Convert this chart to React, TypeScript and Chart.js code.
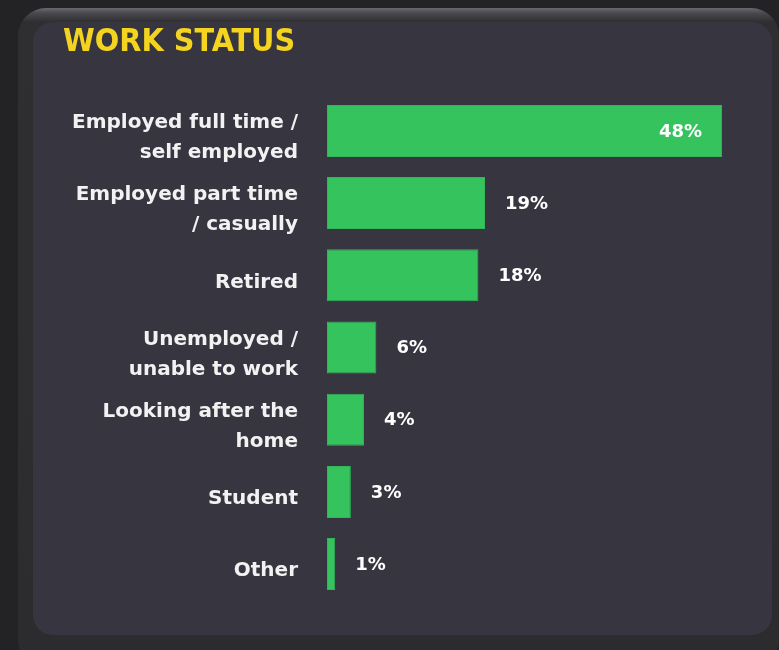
import React, { useEffect, useRef } from "react";
import { Chart, registerables } from "chart.js";

Chart.register(...registerables);

const chartTitle = "WORK STATUS";
const categories: (string | string[])[] = [
  ["Employed full time /", "self employed"],
  ["Employed part time", "/ casually"],
  "Retired",
  ["Unemployed /", "unable to work"],
  ["Looking after the", "home"],
  "Student",
  "Other",
];
const shares = [48, 19.2, 18.4, 6.0, 4.5, 2.9, 1.0];
const shareLabels = ["48%", "19%", "18%", "6%", "4%", "3%", "1%"];

const FONT = "'DejaVu Sans', Verdana, sans-serif";

const valueLabelPlugin = {
  id: "valueLabels",
  afterDatasetsDraw(chart: any) {
    const { ctx } = chart;
    const meta = chart.getDatasetMeta(0);
    const maxVal = Math.max(...shares);
    ctx.save();
    ctx.font = `bold 18px ${FONT}`;
    ctx.fillStyle = "#ffffff";
    ctx.textBaseline = "middle";
    meta.data.forEach((bar: any, i: number) => {
      const inside = shares[i] === maxVal;
      if (inside) {
        ctx.textAlign = "right";
        ctx.fillText(shareLabels[i], bar.x - 20, bar.y + 1);
      } else {
        ctx.textAlign = "left";
        ctx.fillText(shareLabels[i], bar.x + 20, bar.y + 1);
      }
    });
    ctx.restore();
  },
};

export default function App() {
  const canvasRef = useRef<HTMLCanvasElement | null>(null);

  useEffect(() => {
    if (!canvasRef.current) return;
    const chart = new Chart(canvasRef.current, {
      type: "bar",
      data: {
        labels: categories,
        datasets: [
          {
            data: shares,
            backgroundColor: "#35c35e",
            borderColor: "#31b558",
            borderWidth: 1,
            borderSkipped: false,
            barPercentage: 0.72,
            categoryPercentage: 1,
          },
        ],
      },
      options: {
        indexAxis: "y",
        responsive: false,
        animation: false,
        layout: { padding: { left: 30, top: 0, right: 33.5, bottom: 34.8 } },
        plugins: {
          legend: { display: false },
          tooltip: { enabled: false },
          title: {
            display: true,
            text: chartTitle,
            align: "start",
            color: "#f4d41e",
            font: { family: "'DejaVu Sans Condensed', " + FONT, size: 32, weight: "bold", lineHeight: 1.2 },
            padding: { top: 1, bottom: 33.4 },
          },
        },
        scales: {
          x: {
            display: false,
            min: 0,
            max: 50,
          },
          y: {
            grid: { display: false, drawTicks: false },
            border: { display: false },
            afterFit(scale: any) {
              scale.width = 264;
              scale.paddingTop = 0;
              scale.paddingBottom = 0;
            },
            ticks: {
              color: "#f2f2f2",
              padding: 29,
              labelOffset: 7,
              font: { family: FONT, size: 20, weight: "bold", lineHeight: 1.5 },
            },
          },
        },
      },
      plugins: [valueLabelPlugin],
    } as any);
    return () => chart.destroy();
  }, []);

  return (
    <div
      style={{
        position: "absolute",
        left: 0,
        top: 0,
        width: 779,
        height: 650,
        overflow: "hidden",
        background: "#232325",
      }}
    >
      <div
        style={{
          position: "absolute",
          left: 18,
          top: 8,
          width: 761,
          height: 660,
          borderRadius: 28,
          background: "linear-gradient(#6a6a6e 0px, #4a4a4e 5px, #2f2f32 14px, #2c2c2f 100%)",
        }}
      />
      <div
        style={{
          position: "absolute",
          left: 33,
          top: 22,
          width: 739,
          height: 613,
          borderRadius: 20,
          background: "#363540",
        }}
      >
        <canvas ref={canvasRef} width={739} height={613} style={{ display: "block" }} />
      </div>
    </div>
  );
}
